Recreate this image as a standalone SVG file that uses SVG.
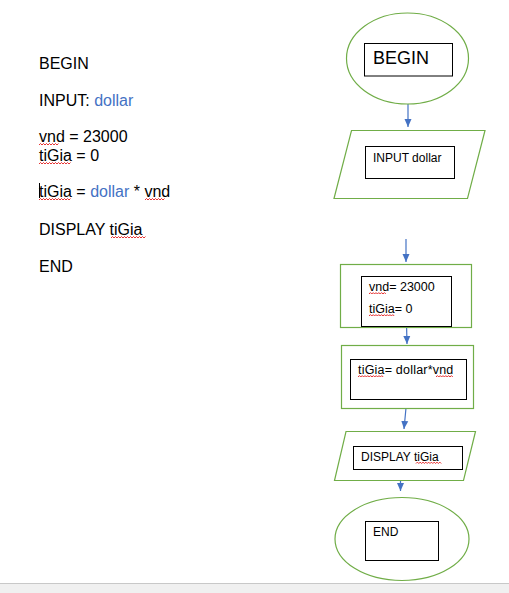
<svg xmlns="http://www.w3.org/2000/svg" width="509" height="593" viewBox="0 0 509 593">
<defs>
<style>
.t{font-family:"Liberation Sans",Arial,sans-serif;fill:#000}
.l{font-size:16px}
.b{fill:#4472C4}
.g{fill:#fff;stroke:#70AD47;stroke-width:1.2}
.k{fill:#fff;stroke:#000;stroke-width:1}
.s{fill:none;stroke:#E00000;stroke-width:0.8}
.c{stroke:#4472C4;stroke-width:1.2;fill:none}
</style>
<marker id="a" markerWidth="8" markerHeight="9" refX="8" refY="4" orient="auto" markerUnits="userSpaceOnUse" viewBox="0 0 8 8">
<path d="M0,0.5 L8,4 L0,7.5 Z" fill="#4472C4"/>
</marker>
</defs>
<rect width="509" height="593" fill="#fff"/>
<g id="pseudocode">
<text class="t l" x="39" y="69">BEGIN</text>
<text class="t l" x="39" y="106">INPUT: <tspan class="b">dollar</tspan></text>
<text class="t l" x="39" y="142">vnd = 23000</text>
<text class="t l" x="39" y="161">tiGia = 0</text>
<line x1="39.5" y1="183" x2="39.5" y2="198" stroke="#000" stroke-width="1"/>
<text class="t l" x="39" y="197">tiGia = <tspan class="b">dollar</tspan> * vnd</text>
<text class="t l" x="39" y="235">DISPLAY tiGia</text>
<text class="t l" x="39" y="272">END</text>
<path class="s" d="M39,145 l1.5,-1.5 l1.5,1.5 l1.5,-1.5 l1.5,1.5 l1.5,-1.5 l1.5,1.5 l1.5,-1.5 l1.5,1.5 l1.5,-1.5 l1.5,1.5 l1.5,-1.5 l1.5,1.5 l1.5,-1.5"/>
<path class="s" d="M39,164 l1.5,-1.5 l1.5,1.5 l1.5,-1.5 l1.5,1.5 l1.5,-1.5 l1.5,1.5 l1.5,-1.5 l1.5,1.5 l1.5,-1.5 l1.5,1.5 l1.5,-1.5 l1.5,1.5 l1.5,-1.5 l1.5,1.5 l1.5,-1.5 l1.5,1.5 l1.5,-1.5 l1.5,1.5 l1.5,-1.5 l1.5,1.5 l1.5,-1.5"/>
<path class="s" d="M39,200 l1.5,-1.5 l1.5,1.5 l1.5,-1.5 l1.5,1.5 l1.5,-1.5 l1.5,1.5 l1.5,-1.5 l1.5,1.5 l1.5,-1.5 l1.5,1.5 l1.5,-1.5 l1.5,1.5 l1.5,-1.5 l1.5,1.5 l1.5,-1.5 l1.5,1.5 l1.5,-1.5 l1.5,1.5 l1.5,-1.5 l1.5,1.5 l1.5,-1.5"/>
<path class="s" d="M145,200 l1.5,-1.5 l1.5,1.5 l1.5,-1.5 l1.5,1.5 l1.5,-1.5 l1.5,1.5 l1.5,-1.5 l1.5,1.5 l1.5,-1.5 l1.5,1.5 l1.5,-1.5 l1.5,1.5 l1.5,-1.5"/>
<path class="s" d="M111,238 l1.5,-1.5 l1.5,1.5 l1.5,-1.5 l1.5,1.5 l1.5,-1.5 l1.5,1.5 l1.5,-1.5 l1.5,1.5 l1.5,-1.5 l1.5,1.5 l1.5,-1.5 l1.5,1.5 l1.5,-1.5 l1.5,1.5 l1.5,-1.5 l1.5,1.5 l1.5,-1.5 l1.5,1.5 l1.5,-1.5 l1.5,1.5 l1.5,-1.5 l1.5,1.5 l1.5,-1.5"/>
</g>
<g id="connectors">
<line class="c" x1="408" y1="104" x2="408" y2="127" marker-end="url(#a)"/>
<line class="c" x1="406" y1="239" x2="406" y2="262" marker-end="url(#a)"/>
<line class="c" x1="406.5" y1="323" x2="407" y2="344" marker-end="url(#a)"/>
<line class="c" x1="406" y1="408" x2="404" y2="429" marker-end="url(#a)"/>
<line class="c" x1="400.5" y1="475" x2="400.5" y2="491" marker-end="url(#a)"/>
</g>
<g id="begin">
<ellipse class="g" cx="407.5" cy="58.5" rx="61" ry="45.5"/>
<rect class="k" x="364.5" y="43.5" width="88" height="32.5"/>
<text class="t" x="373" y="64" font-size="18">BEGIN</text>
</g>
<g id="input">
<polygon class="g" points="351.5,130.5 485,130.5 467.5,198.5 334,198.5"/>
<rect class="k" x="365.5" y="146.5" width="89" height="32"/>
<text class="t" x="373" y="162" font-size="12">INPUT dollar</text>
</g>
<g id="init">
<rect class="g" x="340.5" y="264.5" width="131" height="63"/>
<rect class="k" x="361.5" y="276.5" width="90" height="50"/>
<text class="t" x="369" y="291" font-size="12.5">vnd= 23000</text>
<text class="t" x="369" y="313" font-size="12.5">tiGia= 0</text>
<path class="s" d="M369,294 l1.4,-1.4 l1.4,1.4 l1.4,-1.4 l1.4,1.4 l1.4,-1.4 l1.4,1.4 l1.4,-1.4 l1.4,1.4 l1.4,-1.4 l1.4,1.4 l1.4,-1.4 l1.4,1.4"/>
<path class="s" d="M369,316 l1.4,-1.4 l1.4,1.4 l1.4,-1.4 l1.4,1.4 l1.4,-1.4 l1.4,1.4 l1.4,-1.4 l1.4,1.4 l1.4,-1.4 l1.4,1.4 l1.4,-1.4 l1.4,1.4 l1.4,-1.4 l1.4,1.4 l1.4,-1.4 l1.4,1.4 l1.4,-1.4 l1.4,1.4"/>
</g>
<g id="compute">
<rect class="g" x="341.5" y="345.5" width="132" height="63"/>
<rect class="k" x="350.5" y="359.5" width="116" height="40"/>
<text class="t" x="358" y="374" font-size="12.5" letter-spacing="0.2">tiGia= dollar*vnd</text>
<path class="s" d="M358,377 l1.4,-1.4 l1.4,1.4 l1.4,-1.4 l1.4,1.4 l1.4,-1.4 l1.4,1.4 l1.4,-1.4 l1.4,1.4 l1.4,-1.4 l1.4,1.4 l1.4,-1.4 l1.4,1.4 l1.4,-1.4 l1.4,1.4 l1.4,-1.4 l1.4,1.4 l1.4,-1.4 l1.4,1.4"/>
<path class="s" d="M436,377 l1.4,-1.4 l1.4,1.4 l1.4,-1.4 l1.4,1.4 l1.4,-1.4 l1.4,1.4 l1.4,-1.4 l1.4,1.4 l1.4,-1.4 l1.4,1.4 l1.4,-1.4 l1.4,1.4"/>
</g>
<g id="display">
<polygon class="g" points="346,431.5 475.5,431.5 463.5,480.5 334.5,480.5"/>
<rect class="k" x="353.5" y="446.5" width="109" height="23"/>
<text class="t" x="361" y="461" font-size="12">DISPLAY tiGia</text>
<path class="s" d="M416,463.5 l1.4,-1.4 l1.4,1.4 l1.4,-1.4 l1.4,1.4 l1.4,-1.4 l1.4,1.4 l1.4,-1.4 l1.4,1.4 l1.4,-1.4 l1.4,1.4 l1.4,-1.4 l1.4,1.4 l1.4,-1.4 l1.4,1.4 l1.4,-1.4 l1.4,1.4 l1.4,-1.4 l1.4,1.4"/>
</g>
<g id="end">
<ellipse class="g" cx="402" cy="539" rx="67" ry="41.5"/>
<rect class="k" x="365.5" y="521.5" width="73" height="39"/>
<text class="t" x="373" y="536" font-size="12">END</text>
</g>
<rect x="0" y="583" width="509" height="10" fill="#f0f0f0"/>
<line x1="0" y1="583.5" x2="509" y2="583.5" stroke="#c8c8c8" stroke-width="1"/>
</svg>
